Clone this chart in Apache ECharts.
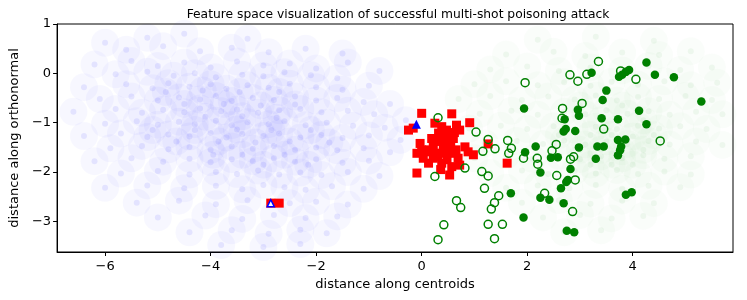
<!DOCTYPE html>
<html><head><meta charset="utf-8">
<script src="https://cdn.jsdelivr.net/npm/echarts@6/dist/echarts.min.js"></script>
<style>html,body{margin:0;padding:0;background:#fff}#c{width:747px;height:300px}</style>
</head><body><div id="c"></div>
<script>
const titleText = 'Feature space visualization of successful multi-shot poisoning attack';
const xName = 'distance along centroids';
const yName = 'distance along orthonormal';
const xTicks = [-6, -4, -2, 0, 2, 4];
const yTicks = [1, 0, -1, -2, -3];

const blueCloud = [
[-5.2,0.72],[-4.5,0.80],[-3.3,0.70],[-6.0,0.62],
[-5.6,0.48],[-4.9,0.55],[-4.2,0.45],[-3.6,0.52],[-2.9,0.43],[-2.2,0.50],[-1.5,0.40],
[-6.2,0.18],[-5.5,0.25],[-5.0,0.15],[-4.5,0.22],[-4.0,0.12],[-3.5,0.24],[-3.0,0.16],[-2.5,0.20],[-2.0,0.10],[-1.4,0.22],[-0.8,0.05],
[-5.8,-0.02],[-5.2,0.03],[-4.7,-0.05],[-4.3,0.00],[-3.9,-0.08],[-3.4,-0.03],[-3.0,-0.06],[-2.6,0.02],[-2.1,-0.04],[-1.6,-0.10],
[-6.4,-0.28],[-5.6,-0.22],[-5.1,-0.30],[-4.8,-0.20],[-4.4,-0.27],[-4.0,-0.22],[-3.7,-0.31],[-3.3,-0.24],[-2.9,-0.29],[-2.5,-0.21],[-2.0,-0.28],[-1.5,-0.33],[-1.0,-0.25],
[-6.1,-0.52],[-5.5,-0.47],[-5.0,-0.55],[-4.6,-0.49],[-4.2,-0.53],[-3.9,-0.46],[-3.6,-0.56],[-3.2,-0.50],[-2.8,-0.54],[-2.4,-0.47],[-2.0,-0.55],[-1.6,-0.50],[-1.1,-0.58],[-0.6,-0.62],
[-6.6,-0.78],[-5.8,-0.72],[-5.3,-0.80],[-4.9,-0.74],[-4.5,-0.79],[-4.2,-0.71],[-3.8,-0.77],[-3.5,-0.73],[-3.1,-0.80],[-2.7,-0.75],[-2.3,-0.72],[-1.9,-0.79],[-1.4,-0.76],[-0.9,-0.83],
[-6.0,-1.02],[-5.4,-0.97],[-5.0,-1.04],[-4.6,-0.98],[-4.3,-1.03],[-3.9,-0.96],[-3.6,-1.05],[-3.3,-0.99],[-2.9,-1.03],[-2.6,-0.97],[-2.2,-1.05],[-1.8,-1.00],[-1.3,-1.06],[-0.7,-1.10],[-0.3,-0.95],
[-6.4,-1.27],[-5.7,-1.22],[-5.2,-1.29],[-4.8,-1.24],[-4.4,-1.28],[-4.0,-1.21],[-3.7,-1.30],[-3.4,-1.23],[-3.0,-1.27],[-2.7,-1.22],[-2.3,-1.30],[-1.9,-1.25],[-1.5,-1.31],[-1.0,-1.26],[-0.4,-1.35],
[-5.9,-1.52],[-5.3,-1.47],[-4.8,-1.54],[-4.4,-1.49],[-4.0,-1.55],[-3.6,-1.48],[-3.2,-1.53],[-2.8,-1.47],[-2.4,-1.55],[-2.0,-1.50],[-1.6,-1.56],[-1.1,-1.52],[-0.6,-1.60],
[-6.2,-1.78],[-5.5,-1.72],[-4.9,-1.79],[-4.4,-1.73],[-4.0,-1.80],[-3.6,-1.74],[-3.2,-1.78],[-2.8,-1.72],[-2.4,-1.79],[-2.0,-1.74],[-1.5,-1.81],[-1.0,-1.77],
[-5.7,-2.03],[-5.0,-1.98],[-4.4,-2.05],[-3.9,-2.00],[-3.5,-2.04],[-3.1,-1.97],[-2.7,-2.05],[-2.3,-2.01],[-1.9,-2.06],[-1.4,-2.00],[-0.8,-2.08],
[-6.0,-2.32],[-5.2,-2.27],[-4.5,-2.33],[-3.9,-2.28],[-3.4,-2.35],[-3.0,-2.26],[-2.6,-2.31],[-2.2,-2.36],[-1.7,-2.29],[-1.1,-2.34],
[-5.4,-2.62],[-4.6,-2.58],[-3.9,-2.65],[-3.3,-2.57],[-2.5,-2.63],[-2.0,-2.60],[-1.4,-2.66],
[-5.0,-2.92],[-4.1,-2.88],[-3.4,-2.95],[-2.8,-2.87],[-2.2,-2.93],[-1.6,-2.90],
[-4.4,-3.22],[-3.6,-3.18],[-2.9,-3.25],[-2.3,-3.17],[-1.8,-3.24],
[-3.8,-3.48],[-3.0,-3.52],[-2.3,-3.46],
[-4.5,-0.62],[-4.1,-0.88],[-3.75,-0.62],[-3.4,-0.87],[-3.05,-0.65],[-2.75,-0.90],[-2.4,-0.63],
[-4.3,-1.15],[-3.85,-1.38],[-3.5,-1.14],[-3.15,-1.40],[-2.85,-1.15],[-2.5,-1.38],[-2.1,-1.15],
[-4.65,-1.38],[-3.95,-1.65],[-3.4,-1.65],[-2.6,-1.65],[-2.15,-1.85],[-4.85,-0.38],[-4.15,-0.35],
[-3.45,-0.38],[-2.7,-0.38],[-5.1,-1.15],[-1.75,-1.40],[-3.0,-1.85]
];

const greenCloud = [
[2.2,0.68],[3.3,0.74],[4.4,0.66],
[1.6,0.38],[2.5,0.44],[3.1,0.35],[3.8,0.42],[4.5,0.37],[5.1,0.45],
[1.3,0.08],[2.0,0.14],[2.6,0.05],[3.2,0.12],[3.8,0.06],[4.3,0.15],[4.9,0.07],[5.5,0.12],
[1.0,-0.22],[1.6,-0.16],[2.2,-0.24],[2.7,-0.18],[3.2,-0.25],[3.6,-0.17],[4.1,-0.23],[4.6,-0.16],[5.1,-0.24],[5.6,-0.19],
[0.7,-0.52],[1.3,-0.46],[1.9,-0.54],[2.4,-0.47],[2.9,-0.53],[3.3,-0.45],[3.7,-0.55],[4.1,-0.48],[4.5,-0.52],[5.0,-0.46],[5.5,-0.54],
[1.1,-0.82],[1.7,-0.76],[2.2,-0.84],[2.7,-0.78],[3.1,-0.83],[3.5,-0.75],[3.9,-0.82],[4.3,-0.77],[4.7,-0.84],[5.2,-0.78],[5.7,-0.83],
[0.9,-1.12],[1.5,-1.06],[2.0,-1.13],[2.5,-1.07],[2.9,-1.14],[3.3,-1.08],[3.7,-1.13],[4.1,-1.06],[4.5,-1.12],[4.9,-1.07],[5.4,-1.13],
[1.2,-1.42],[1.8,-1.37],[2.3,-1.43],[2.7,-1.36],[3.1,-1.44],[3.5,-1.38],[3.9,-1.43],[4.3,-1.37],[4.7,-1.44],[5.2,-1.38],[5.7,-1.45],
[1.0,-1.72],[1.6,-1.66],[2.1,-1.73],[2.6,-1.67],[3.0,-1.74],[3.4,-1.68],[3.8,-1.72],[4.2,-1.66],[4.6,-1.73],[5.1,-1.68],
[1.3,-2.02],[1.9,-1.97],[2.4,-2.04],[2.9,-1.98],[3.3,-2.03],[3.7,-1.96],[4.1,-2.04],[4.6,-1.99],[5.1,-2.05],
[1.6,-2.32],[2.2,-2.27],[2.8,-2.33],[3.3,-2.26],[3.8,-2.34],[4.3,-2.28],[4.9,-2.31],
[1.9,-2.62],[2.6,-2.57],[3.2,-2.64],[3.8,-2.58],[4.4,-2.63],
[2.3,-2.92],[3.0,-2.87],[3.6,-2.94],[4.2,-2.89],
[2.7,-3.22],[3.4,-3.18],
[3.0,-0.65],[3.4,-0.95],[3.8,-0.65],[4.2,-0.95],[3.2,-1.25],[3.6,-1.25],[4.0,-1.28],
[3.0,-1.55],[3.4,-1.55],[3.8,-1.58],[4.2,-1.55],[3.6,-1.85],[3.2,-1.85],[4.0,-1.85],[2.6,-1.25],[4.4,-1.25]
];

const redSquares = [
[0.00,-0.81],[0.57,-0.82],[0.91,-1.00],[-0.25,-1.15],[-0.16,-1.11],[0.25,-1.01],[0.38,-1.08],[0.66,-1.05],
[0.72,-1.15],[0.32,-1.21],[0.50,-1.21],[0.44,-1.32],[0.60,-1.32],[-0.03,-1.42],[0.22,-1.45],[0.41,-1.49],
[0.82,-1.49],[-0.09,-1.62],[0.09,-1.59],[0.25,-1.62],[0.53,-1.62],[0.88,-1.59],[0.98,-1.65],[0.03,-1.72],
[0.22,-1.72],[0.69,-1.72],[0.13,-1.82],[0.38,-1.82],[0.57,-1.89],[0.72,-1.86],[-0.09,-2.02],[0.53,-2.06],
[0.32,-1.38],[0.38,-1.62],[0.19,-1.32],[0.00,-1.55],[1.26,-1.43],[1.62,-1.82],[0.47,-1.15],[0.55,-1.45],
[0.30,-1.68],[0.65,-1.55],[0.15,-1.55],[0.48,-1.75],[0.62,-1.20],[0.36,-1.95],
[-2.86,-2.63],[-2.70,-2.63]
];

const greenFilled = [
[4.26,0.22],[4.42,-0.03],[4.78,-0.08],[5.30,-0.57],[3.22,0.01],[3.74,-0.07],[3.80,-0.03],[3.87,0.03],
[3.93,0.07],[3.50,-0.35],[3.43,-0.54],[2.96,-0.74],[2.98,-0.86],[2.71,-0.93],[3.41,-0.91],[3.72,-0.93],
[4.12,-0.76],[4.26,-1.03],[1.94,-0.71],[2.69,-1.18],[2.73,-1.13],[2.91,-1.17],[2.16,-1.48],[1.96,-1.60],
[2.45,-1.71],[2.58,-1.70],[2.98,-1.50],[3.33,-1.48],[3.45,-1.48],[3.72,-1.35],[3.86,-1.34],[3.72,-1.66],
[3.76,-1.56],[3.78,-1.48],[3.30,-1.73],[2.25,-2.01],[2.82,-1.94],[2.77,-2.16],[2.74,-2.20],[2.64,-2.33],
[1.69,-2.43],[2.25,-2.52],[2.42,-2.56],[2.69,-2.63],[3.87,-2.46],[3.98,-2.41],[1.93,-2.92],[2.75,-3.19],
[2.89,-3.22]
];

const greenHollow = [
[3.35,0.24],[2.81,-0.03],[2.96,-0.16],[3.13,-0.02],[3.77,0.05],[4.06,-0.12],[1.96,-0.19],[2.67,-0.71],
[2.66,-0.91],[3.04,-0.61],[3.45,-1.13],[4.52,-1.37],[0.31,-0.90],[1.03,-1.19],[1.26,-1.34],[1.63,-1.36],
[1.70,-1.52],[1.65,-1.62],[1.39,-1.53],[1.16,-1.58],[1.93,-1.72],[2.19,-1.72],[2.20,-1.84],[2.55,-1.44],
[2.47,-1.57],[2.88,-1.69],[2.82,-1.74],[2.56,-2.07],[2.91,-2.16],[0.82,-1.92],[0.25,-2.09],[1.14,-1.99],
[1.26,-2.08],[1.19,-2.33],[1.46,-2.48],[1.38,-2.62],[1.32,-2.75],[2.33,-2.43],[0.66,-2.58],[0.74,-2.72],
[2.86,-2.80],[0.42,-3.07],[1.26,-3.06],[1.53,-3.06],[0.31,-3.37],[1.38,-3.35]
];

const blueTriangles = [[-0.10,-1.03]];
const blueTrianglesOpen = [[-2.86,-2.63]];

const FONT = 'DejaVu Sans';
const fmt = v => (v < 0 ? '\u2212' + Math.abs(v) : String(v));

const chart = echarts.init(document.getElementById('c'), null, {renderer: 'canvas'});
chart.setOption({
  animation: false,
  backgroundColor: '#fff',
  title: {
    text: titleText, left: 393, textAlign: 'center', top: 4,
    textStyle: {fontFamily: FONT, fontSize: 12.3, fontWeight: 'normal', color: '#000'}
  },
  grid: {left: 53, top: 24, width: 680, height: 228, show: true, borderColor: '#000', borderWidth: 1, backgroundColor: 'transparent'},
  xAxis: {
    type: 'value', min: -6.91, max: 5.90,
    name: xName, nameLocation: 'middle', nameGap: 26,
    nameTextStyle: {fontFamily: FONT, fontSize: 13, color: '#000'},
    axisLine: {show: true, onZero: false, lineStyle: {color: '#000', width: 1}},
    axisTick: {show: true, customValues: xTicks, length: 4, lineStyle: {color: '#000'}},
    axisLabel: {customValues: xTicks, formatter: fmt, fontFamily: FONT, fontSize: 13, color: '#000', margin: 8},
    splitLine: {show: false}
  },
  yAxis: {
    type: 'value', min: -3.62, max: 1.0,
    name: yName, nameLocation: 'middle', nameGap: 32,
    nameTextStyle: {fontFamily: FONT, fontSize: 13, color: '#000'},
    axisLine: {show: true, onZero: false, lineStyle: {color: '#000', width: 1}},
    axisTick: {show: true, customValues: yTicks, length: 4, lineStyle: {color: '#000'}},
    axisLabel: {customValues: yTicks, formatter: fmt, fontFamily: FONT, fontSize: 13, color: '#000', margin: 6},
    splitLine: {show: false}
  },
  series: [
    {type: 'scatter', data: blueCloud, symbol: 'circle', symbolSize: 28, z: 1, silent: true,
     itemStyle: {color: '#0000ff', opacity: 0.03}},
    {type: 'scatter', data: blueCloud, symbol: 'circle', symbolSize: 6, z: 1, silent: true,
     itemStyle: {color: '#0000ff', opacity: 0.08}},
    {type: 'scatter', data: greenCloud, symbol: 'circle', symbolSize: 28, z: 1, silent: true,
     itemStyle: {color: '#008000', opacity: 0.02}},
    {type: 'scatter', data: greenCloud, symbol: 'circle', symbolSize: 6, z: 1, silent: true,
     itemStyle: {color: '#008000', opacity: 0.05}},
    {type: 'scatter', data: redSquares, symbol: 'rect', symbolSize: 9, z: 3,
     itemStyle: {color: '#ff0000', opacity: 1}},
    {type: 'scatter', data: greenFilled, symbol: 'circle', symbolSize: 8.5, z: 4,
     itemStyle: {color: '#008000', opacity: 1}},
    {type: 'scatter', data: greenHollow, symbol: 'circle', symbolSize: 8, z: 5,
     itemStyle: {color: 'rgba(255,255,255,0)', borderColor: '#008000', borderWidth: 1.5, opacity: 1}},
    {type: 'scatter', data: blueTriangles, symbol: 'triangle', symbolSize: 9, z: 6,
     itemStyle: {color: '#0000ff', opacity: 1}},
    {type: 'scatter', data: blueTrianglesOpen, symbol: 'triangle', symbolSize: 7, z: 6,
     itemStyle: {color: '#ffffff', borderColor: '#0000ff', borderWidth: 1.5, opacity: 1}}
  ]
});
</script>
</body></html>
